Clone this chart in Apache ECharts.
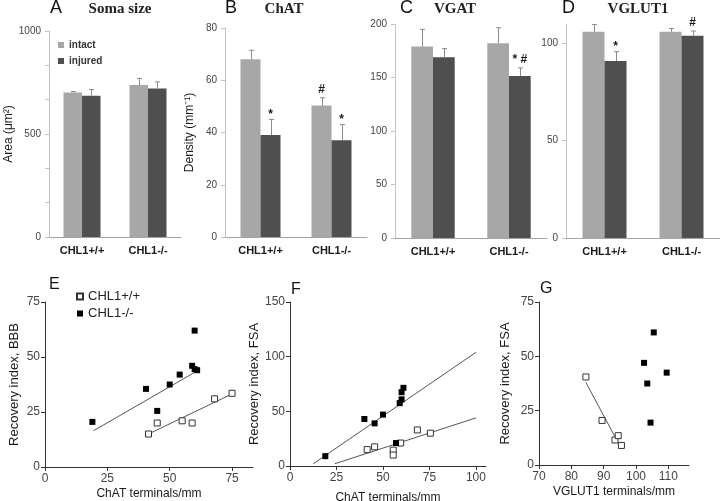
<!DOCTYPE html>
<html><head><meta charset="utf-8">
<script src="https://cdn.jsdelivr.net/npm/echarts@6/dist/echarts.min.js"></script>
<style>html,body{margin:0;padding:0;background:#fff}#c{width:720px;height:501px}</style>
</head><body><div id="c"></div>
<script>
// ---------- data ----------
const categories = ['CHL1+/+', 'CHL1-/-'];
const barSeriesNames = ['intact', 'injured'];

const somaIntact = [702, 738],  somaIntactSem = [4, 32];
const somaInjured = [686, 721], somaInjuredSem = [30, 32];
const chatIntact = [68, 50.3],  chatIntactSem = [3.5, 3];
const chatInjured = [39, 37],   chatInjuredSem = [6, 6];
const vgatIntact = [179, 182],  vgatIntactSem = [16, 14.5];
const vgatInjured = [169, 151.5], vgatInjuredSem = [8, 7.5];
const vglutIntact = [106, 106], vglutIntactSem = [3.7, 1.7];
const vglutInjured = [91, 104], vglutInjuredSem = [4.8, 2.4];

// significance marks: [category index, series index (0 intact,1 injured), text]
const somaMarks = [];
const chatMarks = [[0, 1, '*'], [1, 0, '#'], [1, 1, '*']];
const vgatMarks = [[1, 1, '* #']];
const vglutMarks = [[0, 1, '*'], [1, 1, '#']];

const somaTicks = [0, 500, 1000];
const chatTicks = [0, 20, 40, 60, 80];
const vgatTicks = [0, 50, 100, 150, 200];
const vglutTicks = [0, 50, 100];

// scatter panels
const eWT = [[41.5, 15], [45, 20], [55, 21], [59, 20], [68, 31], [75, 33.5]];
const eKO = [[19, 20.5], [40.5, 35.5], [45, 25.5], [50, 37.5], [54, 42], [59, 46], [60, 44.5], [61, 44], [60, 62]];
const eFitWT = [[41.5, 15], [75.5, 33.5]];
const eFitKO = [[19.5, 16.5], [61.5, 44]];
const fWT = [[41.5, 15], [45.5, 17.5], [55.5, 14.5], [55.5, 10], [59.5, 21], [68.5, 33], [75.5, 30]];
const fKO = [[19, 9], [40, 43], [45.5, 39], [50, 47], [57, 21], [59, 57.5], [60, 61], [60, 67.5], [61, 71.5]];
const fFitWT = [[24, 2], [100, 44]];
const fFitKO = [[12.5, 2], [100, 104]];
const gWT = [[84.5, 40.5], [89.5, 20.5], [93.5, 11.5], [94.5, 13.5], [95.5, 9]];
const gKO = [[102.5, 47], [105.5, 61], [103.5, 37.5], [109.5, 42.5], [104.5, 19.5]];
const gFitWT = [[84.5, 38], [93.5, 13]];

const eTicksX = [0, 25, 50, 75],  eTicksY = [0, 25, 50, 75];
const fTicksX = [0, 25, 50, 75, 100], fTicksY = [0, 50, 100, 150];
const gTicksX = [70, 80, 90, 100, 110], gTicksY = [0, 25, 50, 75];

// ---------- layout / style ----------
const SANS = 'Liberation Sans, Arial, sans-serif';
const SERIF = 'Liberation Serif, Times New Roman, serif';
const C_INTACT = '#a7a7a7', C_INJURED = '#4f4f4f';
const plain = v => String(v);

const barPanels = [
  { title: 'Soma size', letter: 'A', lx: 50, tx: 120, grid: { left: 49, top: 31, width: 132, height: 206 },
    vals: [somaIntact, somaInjured], sems: [somaIntactSem, somaInjuredSem], ticks: somaTicks, max: 1000,
    name: 'Area (\u03bcm\u00b2)', nameGap: 26, bw: 18.5, marks: somaMarks, minor: 3 },
  { title: 'ChAT', letter: 'B', lx: 225, tx: 284, grid: { left: 225, top: 28, width: 142, height: 209 },
    vals: [chatIntact, chatInjured], sems: [chatIntactSem, chatInjuredSem], ticks: chatTicks, max: 80,
    name: 'Density (mm\u207b\u00b9)', nameGap: 29, bw: 20, marks: chatMarks, minor: 0 },
  { title: 'VGAT', letter: 'C', lx: 400, tx: 455, grid: { left: 395, top: 24, width: 152, height: 214 },
    vals: [vgatIntact, vgatInjured], sems: [vgatIntactSem, vgatInjuredSem], ticks: vgatTicks, max: 200,
    name: '', nameGap: 0, bw: 21.7, marks: vgatMarks, minor: 0 },
  { title: 'VGLUT1', letter: 'D', lx: 562, tx: 638, grid: { left: 566, top: 24, width: 154, height: 214 },
    vals: [vglutIntact, vglutInjured], sems: [vglutIntactSem, vglutInjuredSem], ticks: vglutTicks, max: 110,
    name: '', nameGap: 0, bw: 22, marks: vglutMarks, minor: 0 }
];

const scatterPanels = [
  { letter: 'E', lx: 49, ly: 285, grid: { left: 45, top: 302, width: 208, height: 165 },
    xmin: 0, xmax: 83.4, ymax: 75, xt: eTicksX, yt: eTicksY, xname: 'ChAT terminals/mm', yname: 'Recovery index, BBB',
    xGap: 21, yGap: 24, wt: eWT, ko: eKO, fits: [eFitWT, eFitKO] },
  { letter: 'F', lx: 291, ly: 290, grid: { left: 290, top: 302, width: 196, height: 164 },
    xmin: 0, xmax: 105.4, ymax: 150, xt: fTicksX, yt: fTicksY, xname: 'ChAT terminals/mm', yname: 'Recovery index, FSA',
    xGap: 26, yGap: 27, wt: fWT, ko: fKO, fits: [fFitWT, fFitKO] },
  { letter: 'G', lx: 540, ly: 289, grid: { left: 539, top: 302, width: 150, height: 163 },
    xmin: 70, xmax: 116.4, ymax: 75, xt: gTicksX, yt: gTicksY, xname: 'VGLUT1 terminals/mm', yname: 'Recovery index, FSA',
    xGap: 21, yGap: 27, wt: gWT, ko: gKO, fits: [gFitWT] }
];

const grids = [], xAxes = [], yAxes = [], series = [], graphics = [];

barPanels.forEach((p, gi) => {
  grids.push(Object.assign({ outerBoundsMode: 'none', containLabel: false }, p.grid));
  xAxes.push({
    gridIndex: gi, type: 'category', data: categories,
    axisLine: { lineStyle: { color: '#a3a3a3', width: 1 } },
    axisTick: { show: false },
    axisLabel: { margin: 8, fontFamily: SANS, fontSize: 11, fontWeight: 'bold', color: '#1a1a1a' }
  });
  yAxes.push({
    gridIndex: gi, type: 'value', min: 0, max: p.max, interval: p.ticks[1] - p.ticks[0],
    name: p.name, nameLocation: 'middle', nameGap: p.nameGap, nameRotate: 90,
    nameTextStyle: { fontFamily: SANS, fontSize: 12, color: '#1a1a1a' },
    axisLine: { show: true, lineStyle: { color: '#c4c4c4' } },
    axisTick: { show: true, length: 4, lineStyle: { color: '#c4c4c4' }, customValues: p.ticks },
    minorTick: { show: p.minor > 0, splitNumber: p.minor || 1, length: 4, lineStyle: { color: '#c4c4c4' } },
    splitLine: { show: false },
    axisLabel: { margin: 8, fontFamily: SANS, fontSize: 10, color: '#444', customValues: p.ticks, formatter: plain }
  });
  [0, 1].forEach(si => {
    series.push({
      name: barSeriesNames[si], type: 'bar', xAxisIndex: gi, yAxisIndex: gi,
      data: p.vals[si], barWidth: p.bw, barGap: '0%',
      itemStyle: { color: si === 0 ? C_INTACT : C_INJURED }, emphasis: { disabled: true }
    });
  });
  // error bars
  [0, 1].forEach(si => {
    const side = si === 0 ? -1 : 1;
    series.push({
      type: 'custom', xAxisIndex: gi, yAxisIndex: gi, z: 5, silent: true,
      data: categories.map((c, i) => [i, p.vals[si][i], p.sems[si][i]]),
      renderItem: (params, api) => {
        const c = api.value(0), m = api.value(1), s = api.value(2);
        const p0 = api.coord([c, m]), p1 = api.coord([c, m + s]);
        const x = Math.round(p0[0] + side * p.bw / 2) + 0.5;
        return { type: 'group', children: [
          { type: 'line', shape: { x1: x, y1: p0[1], x2: x, y2: p1[1] }, style: { stroke: '#8a8a8a', lineWidth: 1 } },
          { type: 'line', shape: { x1: x - 2.5, y1: p1[1], x2: x + 2.5, y2: p1[1] }, style: { stroke: '#8a8a8a', lineWidth: 1 } }
        ] };
      }
    });
  });
  // significance marks
  if (p.marks.length) {
    series.push({
      type: 'custom', xAxisIndex: gi, yAxisIndex: gi, z: 6, silent: true,
      data: p.marks.map(m => [m[0], p.vals[m[1]][m[0]] + p.sems[m[1]][m[0]]]),
      renderItem: (params, api) => {
        const mk = p.marks[params.dataIndex];
        const side = mk[1] === 0 ? -1 : 1;
        const pt = api.coord([api.value(0), api.value(1)]);
        const off = mk[2] === '*' ? 5 : 8;
        return { type: 'text', x: pt[0] + side * p.bw / 2, y: pt[1] - off,
          style: { text: mk[2], fontFamily: SANS, fontSize: 12, fontWeight: 'bold', fill: '#1a1a1a', align: 'center', verticalAlign: 'middle' } };
      }
    });
  }
  graphics.push({ type: 'text', x: p.lx, y: 8, style: { text: p.letter, fontFamily: SANS, fontSize: 18, fill: '#111', align: 'left', verticalAlign: 'middle' } });
  graphics.push({ type: 'text', x: p.tx, y: 9, style: { text: p.title, fontFamily: SERIF, fontSize: 15, fontWeight: 'bold', fill: '#222', align: 'center', verticalAlign: 'middle' } });
});

scatterPanels.forEach((p, k) => {
  const gi = barPanels.length + k;
  grids.push(Object.assign({ outerBoundsMode: 'none', containLabel: false }, p.grid));
  const axisCommon = {
    axisLine: { show: true, onZero: false, lineStyle: { color: '#333', width: 1 } },
    splitLine: { show: false }
  };
  xAxes.push(Object.assign({}, axisCommon, {
    gridIndex: gi, type: 'value', min: p.xmin, max: p.xmax, interval: p.xt[1] - p.xt[0],
    name: p.xname, nameLocation: 'middle', nameGap: p.xGap,
    nameTextStyle: { fontFamily: SANS, fontSize: 12, color: '#1a1a1a' },
    axisTick: { show: true, length: 4, lineStyle: { color: '#333' }, customValues: p.xt },
    axisLabel: { margin: 6, fontFamily: SANS, fontSize: 12, color: '#444', customValues: p.xt, formatter: plain }
  }));
  yAxes.push(Object.assign({}, axisCommon, {
    gridIndex: gi, type: 'value', min: 0, max: p.ymax, interval: p.yt[1] - p.yt[0],
    name: p.yname, nameLocation: 'middle', nameGap: p.yGap, nameRotate: 90,
    nameTextStyle: { fontFamily: SANS, fontSize: 13, color: '#1a1a1a' },
    axisTick: { show: true, length: 4, lineStyle: { color: '#333' }, customValues: p.yt },
    axisLabel: { margin: 5, fontFamily: SANS, fontSize: 12, color: '#444', customValues: p.yt, formatter: plain }
  }));
  p.fits.forEach(f => {
    series.push({ type: 'line', xAxisIndex: gi, yAxisIndex: gi, data: f, symbol: 'none', silent: true,
      lineStyle: { color: '#555', width: 1 }, z: 2 });
  });
  series.push({ name: 'CHL1+/+', type: 'scatter', xAxisIndex: gi, yAxisIndex: gi, data: p.wt,
    symbol: 'rect', symbolSize: 6, itemStyle: { color: '#fff', borderColor: '#333', borderWidth: 1, opacity: 1 }, z: 3 });
  series.push({ name: 'CHL1-/-', type: 'scatter', xAxisIndex: gi, yAxisIndex: gi, data: p.ko,
    symbol: 'rect', symbolSize: 6, itemStyle: { color: '#000', opacity: 1 }, z: 4 });
  graphics.push({ type: 'text', x: p.lx, y: p.ly, style: { text: p.letter, fontFamily: SANS, fontSize: 16, fill: '#111', align: 'left', verticalAlign: 'middle' } });
});

const chart = echarts.init(document.getElementById('c'));
chart.setOption({
  animation: false,
  backgroundColor: '#fff',
  grid: grids, xAxis: xAxes, yAxis: yAxes, series: series,
  graphic: graphics,
  legend: [
    { data: barSeriesNames, orient: 'vertical', left: 58, top: 40, itemWidth: 6, itemHeight: 6, itemGap: 6,
      icon: 'rect', selectedMode: false, padding: 0,
      textStyle: { fontFamily: SANS, fontSize: 10, fontWeight: 'bold', color: '#333' } },
    { data: ['CHL1+/+', 'CHL1-/-'], orient: 'vertical', left: 76, top: 290, itemWidth: 6, itemHeight: 6, itemGap: 4,
      selectedMode: false, padding: 0,
      textStyle: { fontFamily: SANS, fontSize: 13, color: '#222' } }
  ]
});
</script>
</body></html>
